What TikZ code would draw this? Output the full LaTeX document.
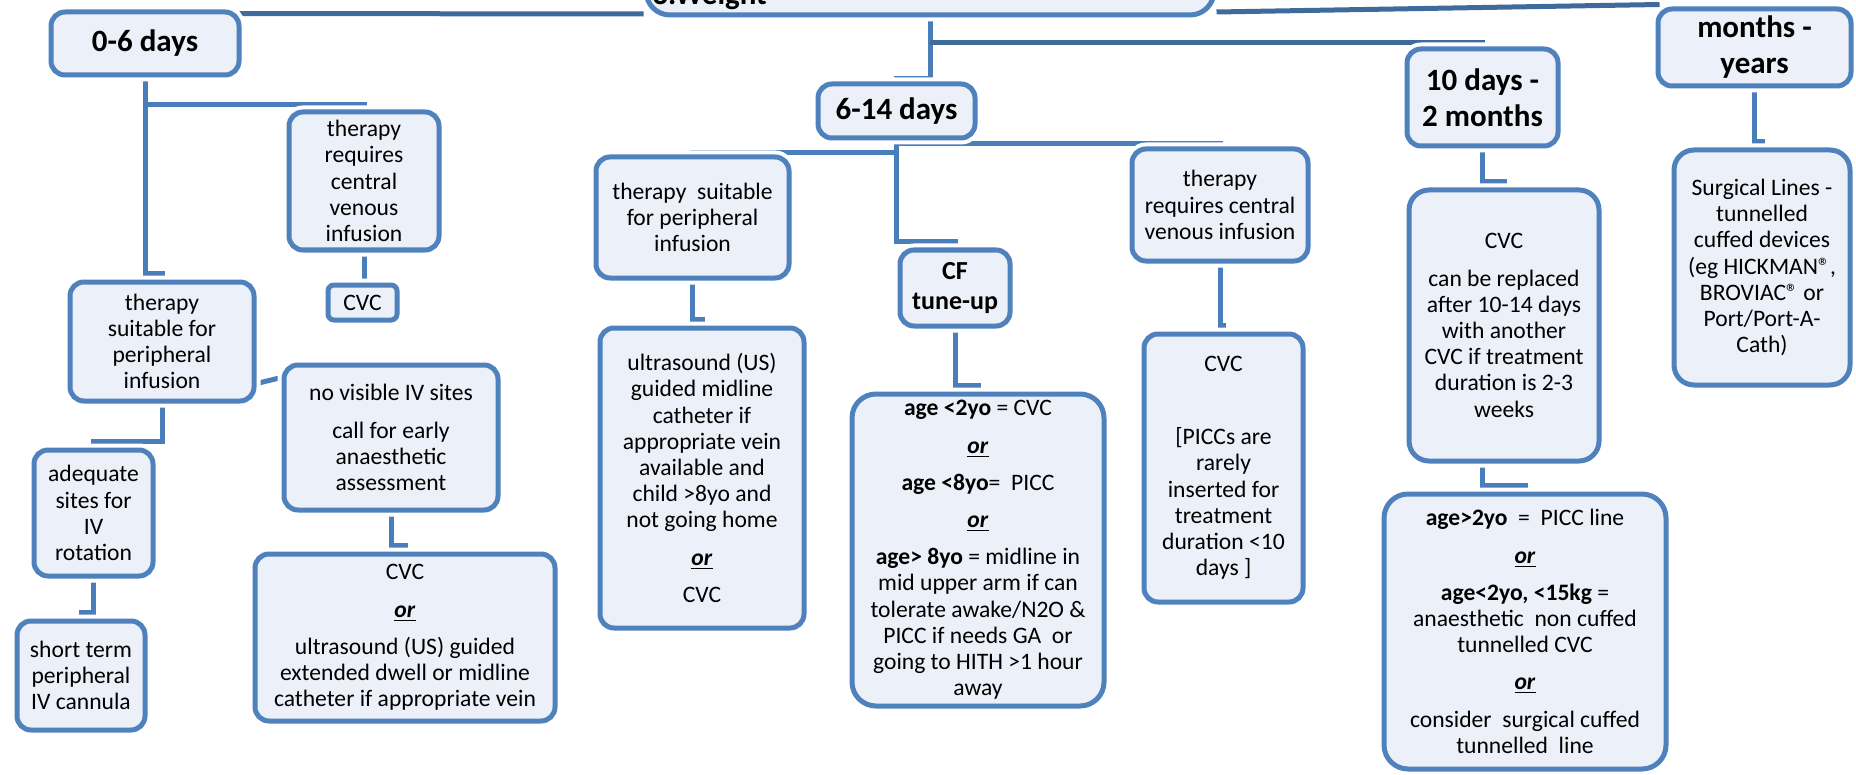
\documentclass[tikz,border=0pt]{standalone}
\usepackage{fontspec}
\setmainfont{Carlito}
\usetikzlibrary{shadows,backgrounds,calc}
\definecolor{bblue}{HTML}{4F81BD}
\definecolor{bfill}{HTML}{ECF0F8}
\definecolor{cblue}{HTML}{4A7EBB}
\definecolor{dblue}{HTML}{3F6A9C}
\newcommand\orr{\underline{\textbf{\textit{or}}}}
\newcommand\bodyf{\fontsize{11.8pt}{13.1pt}\selectfont}
\newcommand\headf{\fontsize{15.5pt}{18pt}\selectfont\bfseries}
\begin{document}
\begin{tikzpicture}[x=0.5pt,y=-0.5pt,
  box/.style={draw=bblue, line width=2.5pt, fill=bfill, rounded corners=7pt,
    align=center, inner sep=0pt, font=\bodyf, text=black,
    drop shadow={shadow xshift=1.5pt, shadow yshift=-2pt, opacity=0.25},
    preaction={draw=white, line width=6.5pt}},
  hbox/.style={box, font=\headf},
  conn/.style={draw=cblue, line width=2.5pt},
  dconn/.style={draw=dblue, line width=2.5pt}]
\useasboundingbox (0,0) rectangle (1856,775);
\clip (0,0) rectangle (1856,775);

% level 0 / 1
\node[box, minimum width=284pt, minimum height=46.5pt, rounded corners=12pt] (root) at (930,-31.5) {};
\node[font=\headf, anchor=base west, inner sep=0pt] (roottxt) at (652,5) {3.Weight};
\node[hbox, minimum width=94pt, minimum height=31.5pt] (d06) at (145,43.5) {0-6 days};
\node[hbox, minimum width=78.5pt, minimum height=27pt] (d614) at (896.5,111) {6-14 days};
\node[hbox, minimum width=75.5pt, minimum height=48.5pt] (d10) at (1482.5,97.5) {10 days -\\2 months};
\node[hbox, minimum width=96.5pt, minimum height=38.5pt] (dmo) at (1754.5,47.5) {months -\\years};

% 0-6 days branch
\node[box, minimum width=75pt, minimum height=69pt] (req0) at (364,181) {therapy\\requires\\central\\venous\\infusion};
\node[box, minimum width=34.5pt, minimum height=17.5pt, rounded corners=3pt] (cvc0) at (362.5,302.5) {CVC};
\node[box, minimum width=92pt, minimum height=59.5pt] (suit0) at (162,341.5) {therapy\\suitable for\\peripheral\\infusion};
\node[box, minimum width=107pt, minimum height=72.5pt] (novis) at (391,437.5) {no visible IV sites\\[5.5pt]call for early\\anaesthetic\\assessment};
\node[box, minimum width=150pt, minimum height=83.5pt] (cvcor0) at (405,637.5) {CVC\\[5.5pt]\orr\\[5.5pt]ultrasound (US) guided\\extended dwell or midline\\catheter if appropriate vein};
\node[box, minimum width=59.5pt, minimum height=63pt] (adeq) at (93.5,513) {adequate\\sites for\\IV\\rotation};
\node[box, minimum width=64pt, minimum height=54.5pt] (short) at (81,675.5) {short term\\peripheral\\IV cannula};

% 6-14 days branch
\node[box, minimum width=96.5pt, minimum height=60.5pt] (suit6) at (692.5,217.5) {therapy~~suitable\\for peripheral\\infusion};
\node[box, minimum width=102pt, minimum height=150pt] (us6) at (702,478) {ultrasound (US)\\guided midline\\catheter if\\appropriate vein\\available and\\child >8yo and\\not going home\\[5.5pt]\orr\\[5.5pt]CVC};
\node[box, font=\fontsize{13pt}{15pt}\selectfont\bfseries, minimum width=55pt, minimum height=38pt] (cf) at (955,288) {CF\\tune-up};
\node[box, minimum width=126pt, minimum height=156pt, rounded corners=12pt] (age) at (978,550) {\textbf{age <2yo} = CVC\\[5.5pt]\orr\\[5.5pt]\textbf{age <8yo}=~~PICC\\[5.5pt]\orr\\[5.5pt]\textbf{age> 8yo} = midline in\\mid upper arm if can\\tolerate awake/N2O \&\\PICC if needs GA~~or\\going to HITH >1 hour\\away};
\node[box, minimum width=88pt, minimum height=56pt] (req6) at (1220,205) {therapy\\requires central\\venous infusion};
\node[box, minimum width=79.5pt, minimum height=134pt] (picc) at (1223.5,468) {CVC\\[23.4pt]{[}PICCs are\\rarely\\inserted for\\treatment\\duration <10\\days ]};

% 10 days - 2 months branch
\node[box, minimum width=95pt, minimum height=135.5pt, rounded corners=10pt] (rep) at (1504,325.5) {CVC\\[5.5pt]can be replaced\\after 10-14 days\\with another\\CVC if treatment\\duration is 2-3\\weeks};
\node[box, minimum width=141pt, minimum height=137.5pt, rounded corners=12pt] (age2) at (1525,631.5) {\textbf{age>2yo}~~=~~PICC line\\[5.5pt]\orr\\[5.5pt]\textbf{age<2yo, <15kg} =\\anaesthetic~~non cuffed\\tunnelled CVC\\[5.5pt]\orr\\[5.5pt]consider~~surgical cuffed\\tunnelled~~line};

% months - years branch
\node[box, minimum width=88pt, minimum height=117.5pt, rounded corners=10pt] (surg) at (1762,267.5) {Surgical Lines -\\tunnelled\\cuffed devices\\(eg HICKMAN®,\\BROVIAC® or\\Port/Port-A-\\Cath)};

\coordinate (j2) at (930,43);
\coordinate (j3) at (145,105);
\coordinate (j4) at (896.5,153);
\coordinate (j5) at (896.5,144);

\begin{scope}[on background layer]
\draw[dconn] ([xshift=-6pt,yshift=-2pt]d06.north east) -- (root.west |- 0,14);
\draw[dconn] (root.east |- 0,12) -- ([xshift=2pt,yshift=1pt]dmo.north west);
\draw[conn] (root.south) |- ([yshift=1.5pt]d614.north) -- (d614.north);
\draw[dconn] (j2) -| (d10.north);
\draw[conn] (d06.south) |- ([yshift=3pt]suit0.north) -- (suit0.north);
\draw[conn] (j3) -| (req0.north);
\draw[conn] (req0.south) -- (req0.south |- cvc0.north);
\draw[conn] ($(suit0.south east)+(0,-20)$) -- ($(novis.north west)+(0,15)$);
\draw[conn] (novis.south) |- ([yshift=3pt]cvcor0.north) -- (cvcor0.north);
\draw[conn] (suit0.south) |- ([yshift=3pt]adeq.north) -- (adeq.north);
\draw[conn] (adeq.south) |- ([yshift=3pt]short.north) -- (short.north);
\draw[conn] (d614.south) |- ([yshift=3pt]cf.north) -- (cf.north);
\draw[conn] (j4) -| (suit6.north);
\draw[conn] (j5) -| (req6.north);
\draw[conn] (suit6.south) |- ([yshift=3pt]us6.north) -- (us6.north);
\draw[conn] (cf.south) |- ([yshift=3pt]age.north) -- (age.north);
\draw[conn] (req6.south) |- ([yshift=3pt]picc.north) -- (picc.north);
\draw[conn] (d10.south) |- ([yshift=3pt]rep.north) -- (rep.north);
\draw[conn] (rep.south -| d10.south) |- ([yshift=3pt]age2.north) -- (age2.north);
\draw[conn] (dmo.south) |- ([yshift=3pt]surg.north) -- (surg.north);
\end{scope}
\end{tikzpicture}
\end{document}
